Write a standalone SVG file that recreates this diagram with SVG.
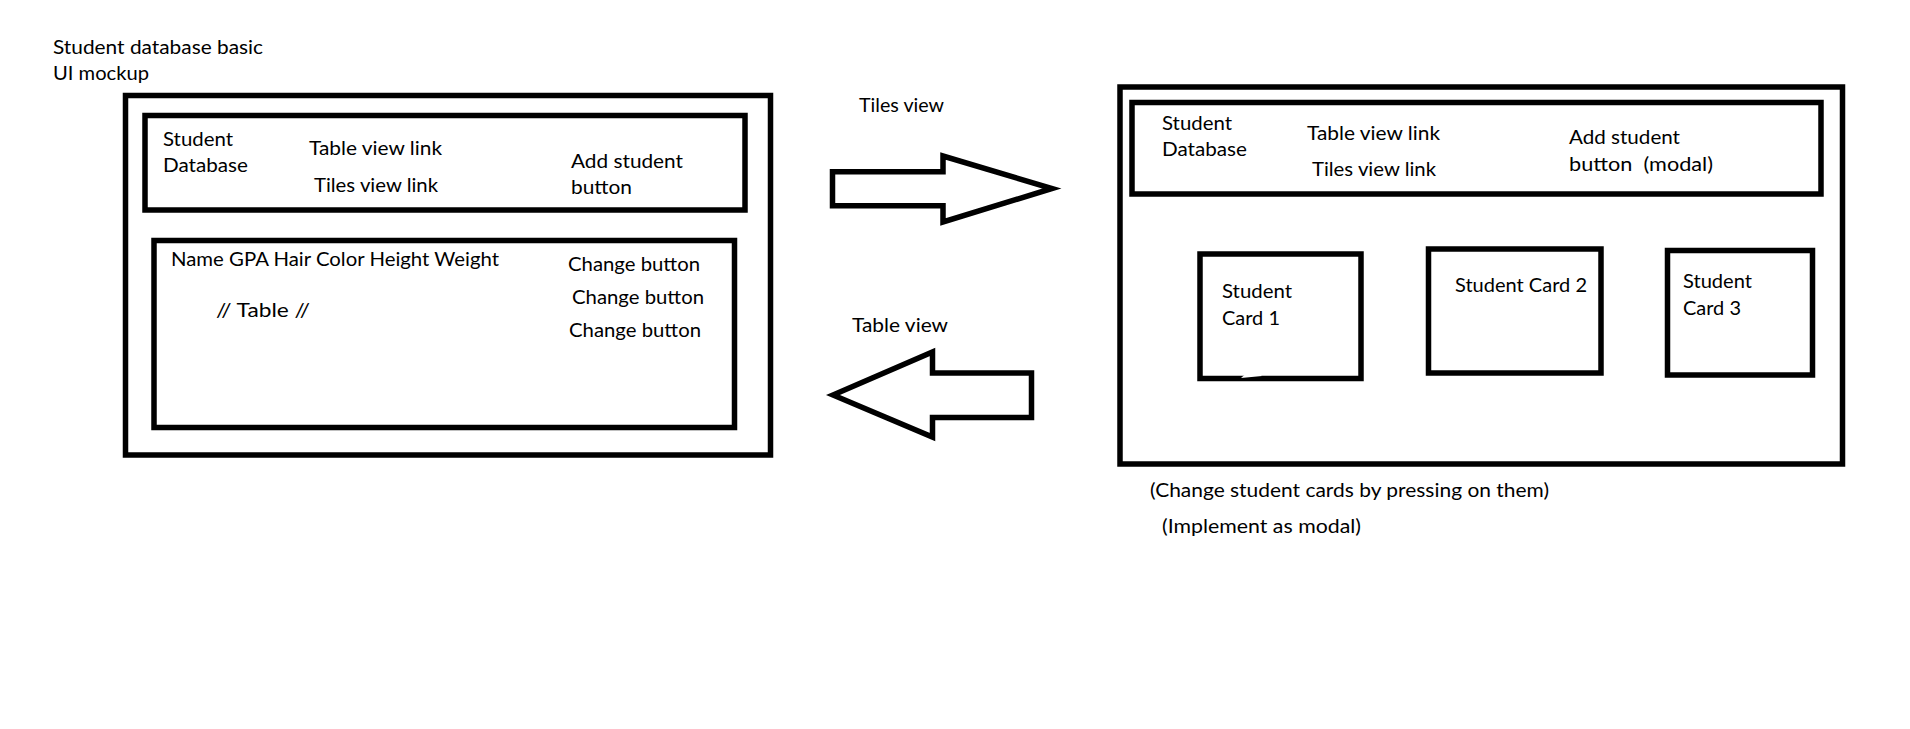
<svg xmlns="http://www.w3.org/2000/svg" width="1910" height="729" viewBox="0 0 1910 729">
  <style>
    .box { fill: #ffffff; stroke: #000000; stroke-width: 5.5; }
    .arrow { fill: #ffffff; stroke: #000000; stroke-width: 5.5; stroke-linejoin: miter; }
    text { font-family: Lato, "Open Sans", "Liberation Sans", sans-serif; font-size: 19.5px; fill: #000000; }
  </style>
  <rect width="1910" height="729" fill="#ffffff"/>

  <!-- Title -->
  <g id="title">
    <text x="53" y="54" textLength="210" lengthAdjust="spacingAndGlyphs">Student database basic</text>
    <text x="53" y="80" textLength="96" lengthAdjust="spacingAndGlyphs">UI mockup</text>
  </g>

  <!-- Table view page -->
  <g id="table-page">
    <rect class="box" x="125.5" y="95.5" width="645" height="359.5"/>
  </g>
  <g id="table-page-header">
    <rect class="box" x="145" y="115.5" width="600" height="94.5"/>
    <text x="163" y="145.5" textLength="70" lengthAdjust="spacingAndGlyphs">Student</text>
    <text x="163" y="172" textLength="85" lengthAdjust="spacingAndGlyphs">Database</text>
    <text x="309" y="155" textLength="133" lengthAdjust="spacingAndGlyphs">Table view link</text>
    <text x="314" y="191.5" textLength="124" lengthAdjust="spacingAndGlyphs">Tiles view link</text>
    <text x="571" y="167.5" textLength="112" lengthAdjust="spacingAndGlyphs">Add student</text>
    <text x="571" y="194" textLength="61" lengthAdjust="spacingAndGlyphs">button</text>
  </g>
  <g id="table-grid">
    <rect class="box" x="154" y="240.5" width="580.5" height="187"/>
    <text x="171" y="266" textLength="328" lengthAdjust="spacingAndGlyphs">Name GPA Hair Color Height Weight</text>
    <text x="216" y="317" textLength="94" lengthAdjust="spacingAndGlyphs">// Table //</text>
    <text x="568" y="270.5" textLength="132" lengthAdjust="spacingAndGlyphs">Change button</text>
    <text x="572" y="304" textLength="132" lengthAdjust="spacingAndGlyphs">Change button</text>
    <text x="569" y="337" textLength="132" lengthAdjust="spacingAndGlyphs">Change button</text>
  </g>

  <!-- Navigation arrows between the two views -->
  <g id="connectors">
    <text x="859" y="111.5" textLength="85" lengthAdjust="spacingAndGlyphs">Tiles view</text>
    <polygon class="arrow" points="832.5,171.7 943,171.7 943,156 1052,188.5 943,222 943,205.8 832.5,205.8"/>
    <text x="852" y="331.5" textLength="96" lengthAdjust="spacingAndGlyphs">Table view</text>
    <polygon class="arrow" points="833,395 932.5,352 932.5,373 1031.5,373 1031.5,417.5 932.5,417.5 932.5,437"/>
  </g>

  <!-- Tiles view page -->
  <g id="tiles-page">
    <rect class="box" x="1120" y="87" width="722.5" height="377"/>
  </g>
  <g id="tiles-page-header">
    <rect class="box" x="1132" y="102.5" width="689" height="91.5"/>
    <text x="1162" y="130" textLength="70" lengthAdjust="spacingAndGlyphs">Student</text>
    <text x="1162" y="156" textLength="85" lengthAdjust="spacingAndGlyphs">Database</text>
    <text x="1307" y="139.5" textLength="133" lengthAdjust="spacingAndGlyphs">Table view link</text>
    <text x="1312" y="175.5" textLength="124" lengthAdjust="spacingAndGlyphs">Tiles view link</text>
    <text x="1569" y="143.5" textLength="111" lengthAdjust="spacingAndGlyphs">Add student</text>
    <text x="1569" y="170.5" textLength="144" lengthAdjust="spacingAndGlyphs">button&#160;&#160;(modal)</text>
  </g>
  <g id="card-1">
    <rect class="box" x="1200" y="254" width="161" height="124.5"/>
    <path d="M1241,378 L1245,374.5 L1259,373.5 L1262,376 Z" fill="#ffffff"/>
    <text x="1222" y="298" textLength="70" lengthAdjust="spacingAndGlyphs">Student</text>
    <text x="1222" y="325" textLength="58" lengthAdjust="spacingAndGlyphs">Card 1</text>
  </g>
  <g id="card-2">
    <rect class="box" x="1428.5" y="249" width="172.5" height="124"/>
    <text x="1455" y="292" textLength="132" lengthAdjust="spacingAndGlyphs">Student Card 2</text>
  </g>
  <g id="card-3">
    <rect class="box" x="1667.5" y="250.5" width="145" height="124.5"/>
    <text x="1683" y="288" textLength="69" lengthAdjust="spacingAndGlyphs">Student</text>
    <text x="1683" y="315" textLength="58" lengthAdjust="spacingAndGlyphs">Card 3</text>
  </g>

  <!-- Notes under the tiles view -->
  <g id="notes">
    <text x="1150" y="496.5" textLength="399" lengthAdjust="spacingAndGlyphs">(Change student cards by pressing on them)</text>
    <text x="1162" y="533" textLength="199" lengthAdjust="spacingAndGlyphs">(Implement as modal)</text>
  </g>
</svg>
